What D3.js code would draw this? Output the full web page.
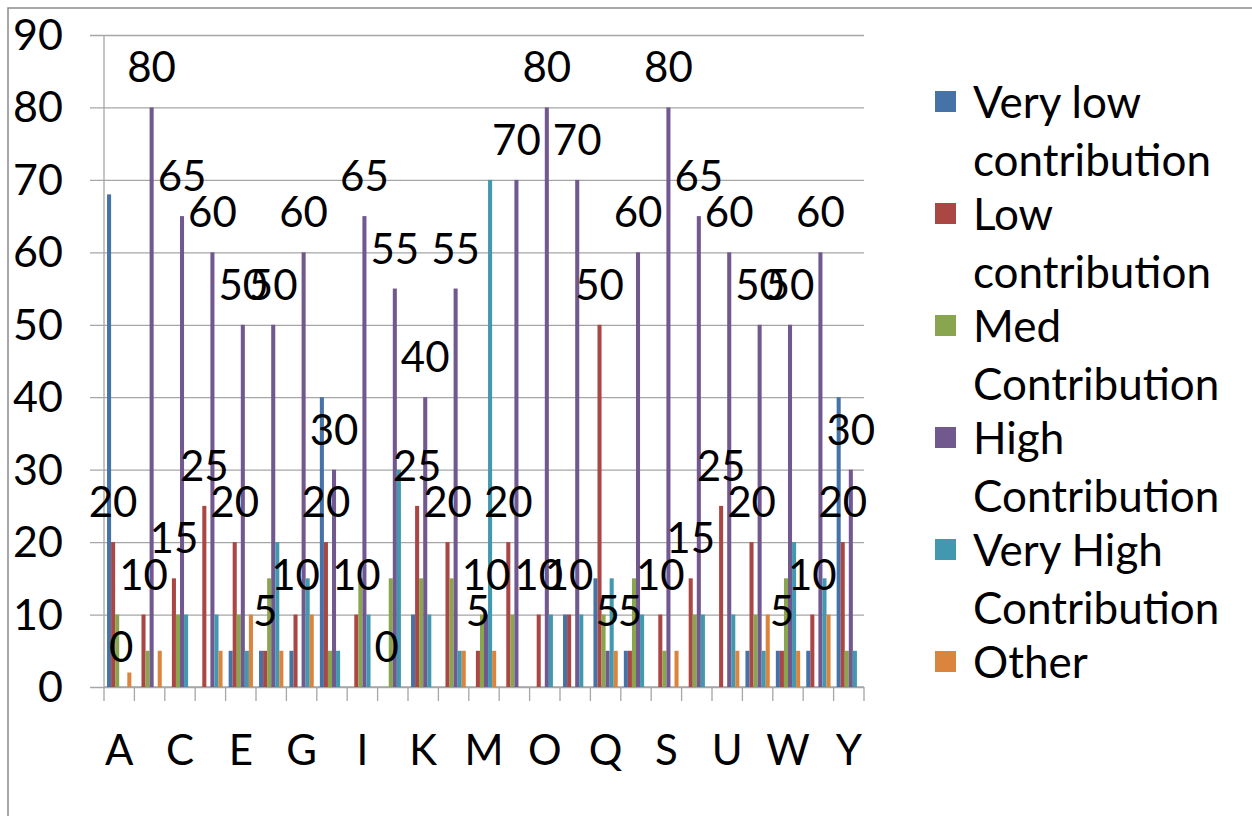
<!DOCTYPE html>
<html>
<head>
<meta charset="utf-8">
<script src="https://d3js.org/d3.v7.min.js"></script>
<style>
  body { margin: 0; background: #fff; }
  svg text { font-family: Lato, "Open Sans", sans-serif; fill: #000; }
</style>
</head>
<body>
<div id="chart"></div>
<script>
// categories on the x axis
var categories = ["A", "B", "C", "D", "E", "F", "G", "H", "I", "J", "K", "L", "M",
    "N", "O", "P", "Q", "R", "S", "T", "U", "V", "W", "X", "Y"];

// one array per series
var veryLow  = [68, 0, 0, 0, 5, 5, 5, 40, 0, 0, 10, 0, 0, 0, 0, 10, 15, 5, 0, 0, 0, 5, 5, 5, 40];
var low      = [20, 10, 15, 25, 20, 5, 10, 20, 10, 0, 25, 20, 5, 20, 10, 10, 50, 5, 10, 15, 25, 20, 5, 10, 20];
var med      = [10, 5, 10, 0, 10, 15, 0, 5, 15, 15, 15, 15, 10, 10, 0, 0, 10, 15, 5, 10, 0, 10, 15, 0, 5];
var high     = [0, 80, 65, 60, 50, 50, 60, 30, 65, 55, 40, 55, 10, 70, 80, 70, 5, 60, 80, 65, 60, 50, 50, 60, 30];
var veryHigh = [0, 0, 10, 10, 5, 20, 15, 5, 10, 30, 10, 5, 70, 0, 10, 10, 15, 10, 0, 10, 10, 5, 20, 15, 5];
var other    = [2, 5, 0, 5, 10, 5, 10, 0, 0, 0, 0, 5, 5, 0, 0, 0, 5, 0, 5, 0, 5, 10, 5, 10, 0];

var seriesNames = ["Very low contribution", "Low contribution", "Med Contribution",
    "High Contribution", "Very High Contribution", "Other"];
var legendLines = [["Very low", "contribution"], ["Low", "contribution"], ["Med", "Contribution"],
    ["High", "Contribution"], ["Very High", "Contribution"], ["Other"]];
var yTicks = [0, 10, 20, 30, 40, 50, 60, 70, 80, 90];

// only these series carry data labels
var labelledSeries = [1, 3];

function main() {

    var width = 1252,
        height = 816;

    var svg = d3.select("#chart").append("svg")
        .attr("width", width)
        .attr("height", height);

    var color = d3.scaleOrdinal()
        .domain(seriesNames)
        .range(["#4572A7", "#AA4643", "#89A54E", "#71588F", "#4198AF", "#DB843D"]);

    var seriesValues = [veryLow, low, med, high, veryHigh, other];
    var series = seriesNames.map(function(name, i) {
        return { name: name, values: seriesValues[i] };
    });

    // outer chart frame (only top and left edge are in view)
    svg.append("rect")
        .attr("x", 8).attr("y", 8)
        .attr("width", 1400).attr("height", 1000)
        .attr("fill", "none")
        .attr("stroke", "#8a8a8a")
        .attr("stroke-width", 1.5);

    /* scales */
    var x = d3.scaleBand()
        .domain(categories)
        .range([104, 864])
        .padding(0);

    var xs = d3.scaleBand()
        .domain(d3.range(series.length))
        .range([0, x.bandwidth()])
        .paddingInner(0)
        .paddingOuter(0.75);

    var y = d3.scaleLinear()
        .domain([0, 90])
        .range([687, 35]);

    // gridlines with outside ticks
    var yAxis = svg.append("g")
        .attr("transform", "translate(864,0)")
        .call(d3.axisLeft(y).tickValues(yTicks).tickSize(864 - 90).tickFormat(""));
    yAxis.select(".domain").remove();
    yAxis.selectAll("line").attr("stroke", "#a6a6a6").attr("stroke-width", 1.3);

    // y tick labels
    svg.append("g").selectAll("text")
        .data(yTicks)
        .enter().append("text")
        .attr("x", 63)
        .attr("y", function(d) { return y(d) + 15; })
        .attr("text-anchor", "end")
        .attr("font-size", 43)
        .text(function(d) { return d; });

    // y axis line
    svg.append("line")
        .attr("x1", 104).attr("x2", 104)
        .attr("y1", y(90)).attr("y2", y(0))
        .attr("stroke", "#a6a6a6").attr("stroke-width", 1.3);

    // x axis with a tick at every category border
    var borders = categories.map(function(c) { return x(c); }).concat([864]);
    svg.append("line")
        .attr("x1", 104).attr("x2", 864)
        .attr("y1", y(0)).attr("y2", y(0))
        .attr("stroke", "#a6a6a6").attr("stroke-width", 1.3);
    svg.append("g").selectAll("line")
        .data(borders)
        .enter().append("line")
        .attr("x1", function(d) { return d; })
        .attr("x2", function(d) { return d; })
        .attr("y1", y(0))
        .attr("y2", y(0) + 14)
        .attr("stroke", "#a6a6a6").attr("stroke-width", 1.3);

    // x labels, every other category
    svg.append("g").selectAll("text")
        .data(categories.filter(function(c, i) { return i % 2 === 0; }))
        .enter().append("text")
        .attr("x", function(d) { return x(d) + x.bandwidth() / 2; })
        .attr("y", 765)
        .attr("text-anchor", "middle")
        .attr("font-size", 42)
        .text(function(d) { return d; });

    /* bars */
    var groups = svg.append("g").selectAll("g")
        .data(series)
        .enter().append("g")
        .attr("fill", function(d) { return color(d.name); });

    groups.each(function(s, si) {
        d3.select(this).selectAll("rect")
            .data(s.values)
            .enter().append("rect")
            .attr("x", function(d, i) { return x(categories[i]) + xs(si); })
            .attr("y", function(d) { return y(d); })
            .attr("width", xs.bandwidth())
            .attr("height", function(d) { return y(0) - y(d); });
    });

    /* data labels above the Low and High bars */
    labelledSeries.forEach(function(si) {
        svg.append("g").selectAll("text")
            .data(series[si].values)
            .enter().append("text")
            .attr("x", function(d, i) { return x(categories[i]) + xs(si) + xs.bandwidth() / 2; })
            .attr("y", function(d) { return y(d) - 25; })
            .attr("text-anchor", "middle")
            .attr("font-size", 42)
            .text(function(d) { return d; });
    });

    /* legend */
    var legend = svg.append("g").selectAll("g")
        .data(series)
        .enter().append("g")
        .attr("transform", function(d, i) { return "translate(0," + (118 + i * 112) + ")"; });

    legend.append("rect")
        .attr("x", 935)
        .attr("y", -27)
        .attr("width", 21)
        .attr("height", 21)
        .attr("fill", function(d) { return color(d.name); });

    legend.each(function(d, i) {
        d3.select(this).selectAll("text")
            .data(legendLines[i])
            .enter().append("text")
            .attr("x", 973)
            .attr("y", function(t, j) { return j * 58; })
            .attr("font-size", 44)
            .text(function(t) { return t; });
    });
}

main();
</script>
</body>
</html>
